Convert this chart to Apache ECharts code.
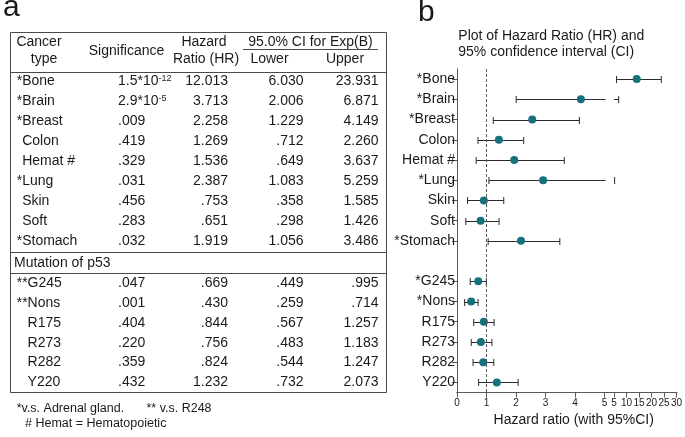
<!DOCTYPE html>
<html>
<head>
<meta charset="utf-8">
<script src="https://cdn.jsdelivr.net/npm/echarts@6/dist/echarts.min.js"></script>
<style>
  html, body { margin: 0; padding: 0; background: #fff; }
  #main { width: 685px; height: 437px; }
</style>
</head>
<body>
<div id="main"></div>
<script>
// table rows (panel a), first 9 are cancer types, last 6 are p53 mutations
const tableNames = ['*Bone', '*Brain', '*Breast', 'Colon', 'Hemat #', '*Lung', 'Skin', 'Soft', '*Stomach',
                    '**G245', '**Nons', 'R175', 'R273', 'R282', 'Y220'];
const significance = ['1.5*10^-12', '2.9*10^-5', '.009', '.419', '.329', '.031', '.456', '.283', '.032',
                      '.047', '.001', '.404', '.220', '.359', '.432'];
const hazardRatio = ['12.013', '3.713', '2.258', '1.269', '1.536', '2.387', '.753', '.651', '1.919',
                     '.669', '.430', '.844', '.756', '.824', '1.232'];
const ciLower = ['6.030', '2.006', '1.229', '.712', '.649', '1.083', '.358', '.298', '1.056',
                 '.449', '.259', '.567', '.483', '.544', '.732'];
const ciUpper = ['23.931', '6.871', '4.149', '2.260', '3.637', '5.259', '1.585', '1.426', '3.486',
                 '.995', '.714', '1.257', '1.183', '1.247', '2.073'];

// panel b labels and dot positions as drawn in the plot
const plotNames = ['*Bone', '*Brain', '*Breast', 'Colon', 'Hemat #', '*Lung', 'Skin', 'Soft', '*Stomach',
                   '*G245', '*Nons', 'R175', 'R273', 'R282', 'Y220'];
const plotHR = [14.1, 4.2, 2.55, 1.42, 1.94, 2.92, 0.91, 0.80, 2.17,
                0.72, 0.48, 0.91, 0.81, 0.89, 1.35];
const ticksLow = [0, 1, 2, 3, 4, 5];
const ticksHigh = [5, 10, 15, 20, 25, 30];

const nCancer = 9;
const font = '"Liberation Sans", Arial, sans-serif';
const textColor = '#1a1a1a';
const lineColor = '#4a4a4a';
const axisColor = '#5a5a5a';
const dotColor = '#17707e';
const barColor = '#2b2b2b';

// categories of the forest plot, with an empty slot between the two groups
const plotCats = plotNames.slice(0, nCancer).concat([''], plotNames.slice(nCancer));
const catIndex = i => (i < nCancer ? i : i + 1);

// ---------- panel a: the table ----------
const graphics = [];
function txt(x, y, text, opt) {
  opt = opt || {};
  graphics.push({
    type: 'text', x: x, y: y, silent: true,
    style: Object.assign({
      text: text, fill: textColor,
      font: (opt.size || 14) + 'px ' + font,
      textAlign: opt.align || 'left', textVerticalAlign: 'middle'
    }, opt.style || {})
  });
}
function hline(x1, x2, y, color) {
  graphics.push({
    type: 'line', silent: true,
    shape: { x1: x1, y1: y, x2: x2, y2: y },
    style: { stroke: color || lineColor, lineWidth: 1 }
  });
}

const tL = 10.5, tR = 386.5, tT = 32.5, tB = 392.5;
graphics.push({
  type: 'rect', silent: true,
  shape: { x: tL, y: tT, width: tR - tL, height: tB - tT },
  style: { fill: 'none', stroke: lineColor, lineWidth: 1 }
});

txt(3, 8, 'a', { size: 30 });
txt(39, 42.5, 'Cancer', { align: 'center' });
txt(44, 59, 'type', { align: 'center' });
txt(126.5, 51, 'Significance', { align: 'center' });
txt(204, 42.5, 'Hazard', { align: 'center' });
txt(206, 59, 'Ratio (HR)', { align: 'center' });
txt(310.5, 42.5, '95.0% CI for Exp(B)', { align: 'center' });
hline(243, 378, 49.5);
txt(269.5, 59, 'Lower', { align: 'center' });
txt(345, 59, 'Upper', { align: 'center' });
hline(tL, tR, 72.5);

const rowStep = 20.1;
function rowY(i) {
  return i < nCancer ? 80.7 + i * rowStep : 283.2 + (i - nCancer) * 19.85;
}
tableNames.forEach(function (name, i) {
  const y = rowY(i);
  const stars = (name.match(/^\*+/) || [''])[0].length;
  const groupStars = i < nCancer ? 1 : 2;
  txt(16.7 + (groupStars - stars) * 5.45, y, name);
  const sig = significance[i];
  if (sig.indexOf('^') >= 0) {
    const parts = sig.split('^');
    txt(118, y, '{b|' + parts[0] + '}{s|' + parts[1] + '}', {
      style: {
        rich: {
          b: { fontSize: 14, fontFamily: font, fill: textColor },
          s: { fontSize: 9, fontFamily: font, fill: textColor, verticalAlign: 'top' }
        }
      }
    });
  } else {
    txt(118, y, sig);
  }
  txt(228, y, hazardRatio[i], { align: 'right' });
  txt(303.5, y, ciLower[i], { align: 'right' });
  txt(378.5, y, ciUpper[i], { align: 'right' });
});
hline(tL, tR, 252.5);
txt(14, 263, 'Mutation of p53');
hline(tL, tR, 273.5);

txt(16.7, 408.3, '*v.s. Adrenal gland.', { size: 12.5 });
txt(146.5, 408.3, '** v.s. R248', { size: 12.5 });
txt(25, 423.3, '# Hemat = Hematopoietic', { size: 12.5 });

// ---------- panel b: forest plot with broken x axis ----------
txt(418, 13, 'b', { size: 30 });
txt(458.3, 35.7, 'Plot of Hazard Ratio (HR) and');
txt(458.3, 52.3, '95% confidence interval (CI)');
txt(573.7, 420, 'Hazard ratio (with 95%CI)', { align: 'center' });

const plotTop = 69, plotH = 323.5;
const segA = { left: 457, width: 147.5 };
const segB = { left: 614, width: 63 };

function errorBar(params, api) {
  const cat = api.value(0);
  const p1 = api.coord([api.value(1), cat]);
  const p2 = api.coord([api.value(2), cat]);
  const cs = params.coordSys;
  const xMin = cs.x, xMax = cs.x + cs.width;
  const y = Math.round(p1[1]) + 0.5;
  const children = [];
  const a = Math.max(p1[0], xMin), b = Math.min(p2[0], xMax + 1);
  if (b > a) {
    children.push({ type: 'line', shape: { x1: a, y1: y, x2: b, y2: y },
                    style: { stroke: barColor, lineWidth: 1 } });
  }
  [p1[0], p2[0]].forEach(function (x) {
    if (x >= xMin - 0.5 && x <= xMax + 0.5) {
      children.push({ type: 'line', shape: { x1: x, y1: y - 3.5, x2: x, y2: y + 3.5 },
                      style: { stroke: barColor, lineWidth: 1 } });
    }
  });
  return { type: 'group', children: children };
}

const barData = tableNames.map(function (n, i) {
  return [catIndex(i), parseFloat(ciLower[i]), parseFloat(ciUpper[i])];
});
const dotsA = [], dotsB = [];
plotHR.forEach(function (v, i) {
  (v <= ticksLow[ticksLow.length - 1] ? dotsA : dotsB).push([v, catIndex(i)]);
});

const labelStyle = { color: textColor, fontFamily: font };

const option = {
  animation: false,
  graphic: graphics,
  grid: [
    { left: segA.left, top: plotTop, width: segA.width, height: plotH },
    { left: segB.left, top: plotTop, width: segB.width, height: plotH },
    { left: segA.left, top: plotTop, width: segB.left + segB.width - segA.left, height: plotH }
  ],
  xAxis: [
    {
      gridIndex: 0, type: 'value', min: ticksLow[0], max: ticksLow[ticksLow.length - 1], interval: 1,
      axisLine: { show: true, lineStyle: { color: axisColor } },
      axisTick: { show: true, length: 5, lineStyle: { color: axisColor } },
      axisLabel: Object.assign({ fontSize: 10, margin: 6 }, labelStyle),
      splitLine: { show: false }
    },
    {
      gridIndex: 1, type: 'value', min: ticksHigh[0], max: ticksHigh[ticksHigh.length - 1], interval: 5,
      axisLine: { show: true, lineStyle: { color: axisColor } },
      axisTick: { show: true, length: 5, lineStyle: { color: axisColor } },
      axisLabel: Object.assign({ fontSize: 10, margin: 6 }, labelStyle),
      splitLine: { show: false }
    },
    {
      gridIndex: 2, type: 'value', position: 'top', min: 0, max: 1,
      axisLine: { show: true, lineStyle: { color: axisColor } },
      axisTick: { show: false }, axisLabel: { show: false }, splitLine: { show: false }
    }
  ],
  yAxis: [
    {
      gridIndex: 0, type: 'category', data: plotCats, inverse: true,
      axisLine: { show: true, lineStyle: { color: axisColor } },
      axisTick: {
        show: true, length: 5, alignWithLabel: true, lineStyle: { color: axisColor },
        interval: function (idx, val) { return val !== ''; }
      },
      axisLabel: Object.assign({ fontSize: 14, margin: 2, interval: 0 }, labelStyle)
    },
    {
      gridIndex: 1, type: 'category', data: plotCats, inverse: true,
      axisLine: { show: false }, axisTick: { show: false }, axisLabel: { show: false }
    },
    {
      gridIndex: 2, type: 'value', position: 'right', min: 0, max: 1,
      axisLine: { show: true, lineStyle: { color: axisColor } },
      axisTick: { show: false }, axisLabel: { show: false }, splitLine: { show: false }
    }
  ],
  series: [
    {
      type: 'custom', xAxisIndex: 0, yAxisIndex: 0, renderItem: errorBar,
      data: barData, encode: { x: [1, 2], y: 0 }, silent: true, z: 2
    },
    {
      type: 'custom', xAxisIndex: 1, yAxisIndex: 1, renderItem: errorBar,
      data: barData, encode: { x: [1, 2], y: 0 }, silent: true, z: 2
    },
    {
      type: 'scatter', xAxisIndex: 0, yAxisIndex: 0, data: dotsA,
      symbolSize: 8, itemStyle: { color: dotColor, opacity: 1 }, z: 3, silent: true,
      markLine: {
        silent: true, symbol: 'none', label: { show: false },
        lineStyle: { color: '#555', type: [3, 2], width: 1 },
        data: [{ xAxis: 1 }]
      }
    },
    {
      type: 'scatter', xAxisIndex: 1, yAxisIndex: 1, data: dotsB,
      symbolSize: 8, itemStyle: { color: dotColor, opacity: 1 }, z: 3, silent: true
    }
  ]
};

const chart = echarts.init(document.getElementById('main'));
chart.setOption(option);
</script>
</body>
</html>
